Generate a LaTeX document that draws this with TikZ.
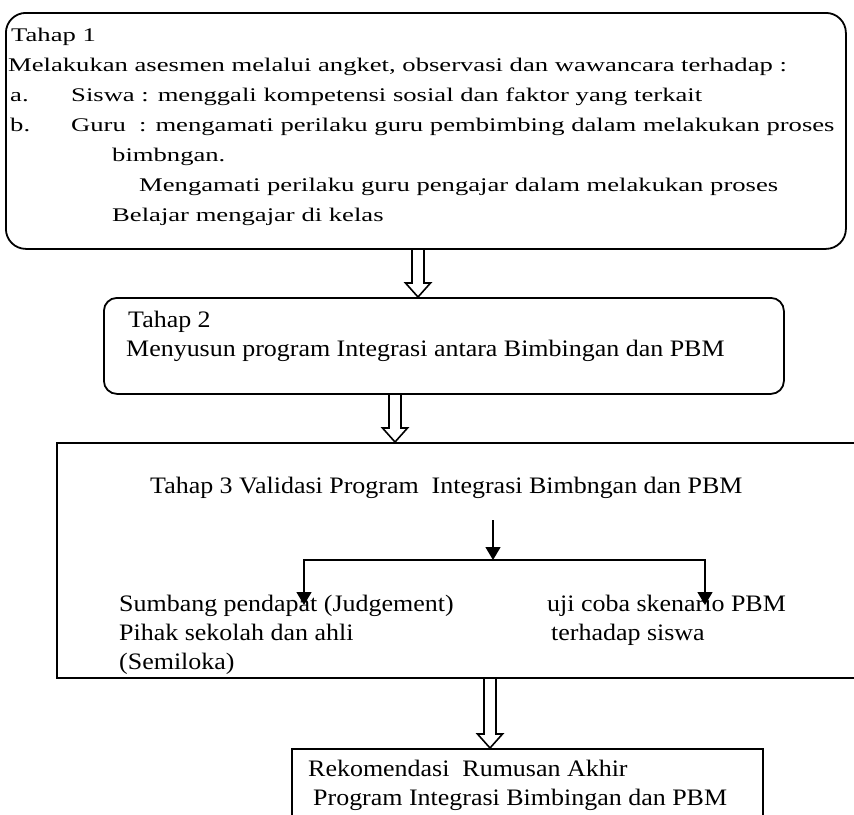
\documentclass[tikz,border=0pt]{standalone}
\usepackage{fontspec}
\setmainfont{Liberation Serif}[FakeStretch=1.1]
\newfontfamily\tahapfont{Liberation Serif}[FakeStretch=1.38]
\usetikzlibrary{arrows.meta, calc}

\begin{document}
\begin{tikzpicture}[x=1pt, y=-1pt,
    every node/.style={inner sep=0pt, font=\fontsize{23.6}{29}\selectfont},
    rbox/.style={draw, line width=1.8pt, rounded corners=#1, anchor=north west},
    sbox/.style={draw, line width=1.8pt, anchor=north west},
    isi/.style={anchor=base west, align=left},
    >={Triangle[length=13pt, width=15pt]},
    hollow/.style={line width=1.6pt, to path={let \p1=(\tikztostart), \p2=(\tikztotarget) in
      (\x1-6pt,\y1) -- (\x1-6pt,\y2+14pt) -- (\x1-12.5pt,\y2+14pt) -- (\x1,\y2)
      -- (\x1+12.5pt,\y2+14pt) -- (\x1+6pt,\y2+14pt) -- (\x1+6pt,\y1)}}]
\useasboundingbox (0,0) rectangle (854,814);

% kotak tahap
\node[rbox=20pt, minimum width=840pt, minimum height=236pt] (tahap1) at (5,12) {};
\node[rbox=13pt, minimum width=680pt, minimum height=96pt] (tahap2) at (103,297) {};
\node[sbox, minimum width=830pt, minimum height=235pt] (tahap3) at (56,442) {};
\node[sbox, minimum width=471pt, minimum height=100pt] (akhir) at (291,748) {};

% isi tahap 1 (base = baris terakhir)
\node[isi, font=\tahapfont\fontsize{19.3}{30}\selectfont] (isi1) at (8,221)
  {\hspace*{3pt}Tahap 1\\
   Melakukan asesmen melalui angket, observasi dan wawancara terhadap :\\
   \hspace*{2pt}\makebox[61pt][l]{a.}Siswa : menggali kompetensi sosial dan faktor yang terkait\\
   \hspace*{2pt}\makebox[61pt][l]{b.}Guru\ \ : mengamati perilaku guru pembimbing dalam melakukan proses\\
   \hspace*{104pt}bimbngan.\\
   \hspace*{131pt}Mengamati perilaku guru pengajar dalam melakukan proses\\
   \hspace*{104pt}Belajar mengajar di kelas};

\node[isi] (isi2) at (126,356)
  {\hspace*{2pt}Tahap 2\\Menyusun program Integrasi antara Bimbingan dan PBM};

\node[isi] (judul3) at (150,493) {Tahap 3 Validasi Program\ \ Integrasi Bimbngan dan PBM};
\node[isi] (pendapat) at (119,669)
  {Sumbang pendapat (Judgement)\\Pihak sekolah dan ahli\\(Semiloka)};
\node[isi] (ujicoba) at (547,640) {uji coba skenario PBM\\\hspace*{4pt}terhadap siswa};

\node[isi] (rumusan) at (308,805)
  {Rekomendasi\ \ Rumusan Akhir\\\hspace*{5pt}Program Integrasi Bimbingan dan PBM};

% cabang validasi
\coordinate (pecah) at (493,520);
\coordinate (cabang) at (493,560);
\coordinate (kiri) at (304,605);
\coordinate (kanan) at (705,605);
\draw[->, line width=1.4pt] (pecah) -- (cabang);
\draw[->, line width=1.4pt] (cabang) -| (kiri);
\draw[->, line width=1.4pt] (cabang) -| (kanan);

% panah tebal antar tahap
\coordinate (p1) at (418,0);
\coordinate (p2) at (395,0);
\coordinate (p3) at (490,0);
\draw[hollow] (tahap1.south -| p1) to (tahap2.north -| p1);
\draw[hollow] (tahap2.south -| p2) to (tahap3.north -| p2);
\draw[hollow] (tahap3.south -| p3) to (akhir.north -| p3);
\end{tikzpicture}
\end{document}
